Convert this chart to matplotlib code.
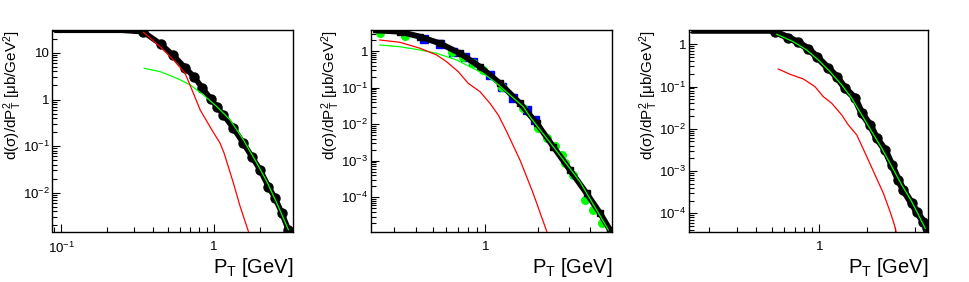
import numpy as np
import matplotlib
matplotlib.use("Agg")
import matplotlib.pyplot as plt
from matplotlib.ticker import LogLocator, FuncFormatter, NullFormatter

plt.rcParams['font.family'] = ['Liberation Sans', 'DejaVu Sans']
plt.rcParams['mathtext.fontset'] = 'custom'
plt.rcParams['mathtext.rm'] = 'Liberation Sans'
plt.rcParams['mathtext.it'] = 'Liberation Sans:italic'
plt.rcParams['mathtext.bf'] = 'Liberation Sans:bold'
plt.rcParams['mathtext.default'] = 'regular'

# ---------------- data ----------------
# Panel 1
p1_black_x = [0.09, 0.15, 0.25, 0.343, 0.449, 0.537, 0.646, 0.743, 0.839, 0.951, 1.041,
              1.150, 1.337, 1.554, 1.763, 1.998, 2.264, 2.505, 2.77, 3.06]
p1_black_y = [80, 60, 40, 28.6, 15.4, 9.06, 4.84, 3.01, 1.75, 1.03, 0.705,
              0.468, 0.242, 0.115, 0.0595, 0.0308, 0.0135, 0.00762, 0.00363, 0.00159]
p1_red_x = [0.345, 0.444, 0.542, 0.646, 0.732, 0.810, 0.966, 1.094, 1.162, 1.337, 1.479, 1.676]
p1_red_y = [27.8, 13.6, 7.08, 3.66, 1.36, 0.598, 0.223, 0.115, 0.0704, 0.016, 0.00504, 0.00146]
p1_green_x = [0.349, 0.444, 0.570, 0.697, 0.851, 1.041, 1.272, 1.554, 1.901, 2.21, 2.57, 3.06]
p1_green_y = [4.70, 3.97, 2.87, 2.06, 1.255, 0.705, 0.365, 0.136, 0.043, 0.0173, 0.00596, 0.00159]

# Panel 2
p2_black_x = [0.2285, 0.325, 0.423, 0.550, 0.716, 0.933, 1.213, 1.58, 1.97, 2.45, 3.05, 3.80, 4.54, 5.17]
p2_black_y = [3.75, 3.37, 2.46, 1.62, 0.865, 0.372, 0.131, 0.0372, 0.0106, 0.00243, 5.6e-4, 1.29e-4, 3.68e-5, 1.29e-5]
p2_blue_x = [0.448, 0.551, 0.656, 0.765, 0.854, 1.064, 1.241, 1.446, 1.726, 1.924]
p2_blue_y = [2.13, 1.52, 0.922, 0.699, 0.491, 0.221, 0.106, 0.0510, 0.0244, 0.0130]
p2_gpts_x = [0.2495, 0.347, 0.642, 0.748, 0.854, 0.974, 1.241, 1.650, 2.01, 2.25, 2.51, 2.74, 2.86,
             3.19, 3.72, 4.15, 4.66]
p2_gpts_y = [3.05, 2.57, 0.957, 0.699, 0.461, 0.303, 0.102, 0.0272, 0.00773, 0.0042, 0.00246, 0.00144,
             8.5e-4, 4.09e-4, 8.5e-5, 4.53e-5, 1.96e-5]
p2_green_x = [0.2495, 0.325, 0.423, 0.527, 0.686, 0.817, 0.974, 1.162, 1.384, 1.650, 1.80, 2.45, 3.48, 5.06]
p2_green_y = [1.46, 1.31, 1.065, 0.865, 0.568, 0.372, 0.246, 0.131, 0.0628, 0.0301, 0.0160, 0.00243,
              2.68e-4, 1.29e-5]
p2_red_x = [0.2495, 0.325, 0.423, 0.527, 0.601, 0.701, 0.799, 0.933, 1.064, 1.187, 1.326, 1.58, 1.88, 2.25]
p2_red_y = [2.00, 1.73, 1.19, 0.778, 0.510, 0.272, 0.131, 0.0773, 0.0372, 0.0178, 0.00623, 1.05e-3,
            1.29e-4, 1.16e-5]

# Panel 3
p3_black_x = [0.155, 0.25, 0.40, 0.50, 0.524, 0.637, 0.736, 0.852, 0.963, 1.140, 1.288, 1.455, 1.683,
              1.855, 2.094, 2.307, 2.606, 2.873, 3.162, 3.40, 3.84, 4.13, 4.55, 4.78]
p3_black_y = [20, 10, 4.0, 2.5, 1.99, 1.43, 1.115, 0.774, 0.509, 0.270, 0.171, 0.0909, 0.0527,
              0.0233, 0.0123, 0.00596, 0.00315, 0.00139, 6.14e-4, 3.56e-4, 1.72e-4, 1.09e-4, 6.33e-5, 4.42e-5]
p3_green_x = [0.538, 0.684, 0.832, 0.986, 1.169, 1.386, 1.603, 1.855, 2.146, 2.483, 2.873, 3.323,
              3.84, 4.34, 4.67]
p3_green_y = [1.725, 1.152, 0.733, 0.425, 0.2245, 0.1088, 0.0527, 0.0212, 0.00854, 0.00345, 0.00127,
              4.65e-4, 1.88e-4, 7.62e-5, 4.42e-5]
p3_red_x = [0.550, 0.652, 0.792, 0.939, 1.060, 1.198, 1.386, 1.526, 1.725, 1.995, 2.252, 2.541, 2.802,
            2.984, 3.058]
p3_red_y = [0.260, 0.195, 0.151, 0.0992, 0.0575, 0.0401, 0.0212, 0.0123, 0.00713, 0.00219, 8.06e-4,
            2.97e-4, 1.09e-4, 5.29e-5, 3.67e-5]

xlims = [(0.0877, 3.28), (0.222, 5.31), (0.150, 4.90)]
ylims = [(1.4e-3, 30.7), (1.11e-5, 3.68), (3.55e-5, 2.14)]

YLABEL = 'd(σ)/dP$_{T}^{2}$ [μb/GeV$^{2}$]'
XLABEL = 'P$_{T}$ [GeV]'

# ---------------- figure ----------------
W, H = 970, 282
fig = plt.figure(figsize=(W / 100, H / 100), dpi=100)

axes_px = [(52.5, 293.0), (371.0, 612.0), (689.0, 928.5)]
top_px, bot_px = 30.3, 232.3
ylab_x = [13, 331, 649]


def fmt(v, pos):
    e = int(round(np.log10(v)))
    if e == 0:
        return '1'
    if e == 1:
        return '10'
    return r'$10^{%d}$' % e


axs = []
for i, (l, r) in enumerate(axes_px):
    ax = fig.add_axes([l / W, 1 - bot_px / H, (r - l) / W, (bot_px - top_px) / H])
    ax.set_xscale('log')
    ax.set_yscale('log')
    ax.set_xlim(*xlims[i])
    ax.set_ylim(*ylims[i])
    for s in ax.spines.values():
        s.set_linewidth(1.0)
    ax.xaxis.set_major_locator(LogLocator(base=10, numticks=10))
    ax.xaxis.set_minor_locator(LogLocator(base=10, subs=np.arange(2, 10), numticks=20))
    ax.yaxis.set_major_locator(LogLocator(base=10, numticks=10))
    ax.yaxis.set_minor_locator(LogLocator(base=10, subs=np.arange(2, 10), numticks=20))
    ax.xaxis.set_major_formatter(FuncFormatter(fmt))
    ax.yaxis.set_major_formatter(FuncFormatter(fmt))
    ax.xaxis.set_minor_formatter(NullFormatter())
    ax.yaxis.set_minor_formatter(NullFormatter())
    ax.tick_params(which='both', direction='in', top=False, right=False, labelsize=9.5, width=0.8)
    ax.tick_params(which='major', length=6)
    ax.tick_params(which='minor', length=3.5)
    ax.tick_params(axis='x', pad=6)
    ax.tick_params(axis='y', pad=2)
    fig.text(r / W, 1 - 256 / H, XLABEL, ha='right', va='top', fontsize=14.5)
    fig.text(ylab_x[i] / W, 1 - 30 / H, YLABEL, rotation=90, ha='center', va='top', fontsize=11)
    axs.append(ax)


def draw_black(ax, x, y, ymax, lw, ms, marker):
    x = np.asarray(x)
    y = np.asarray(y)
    yc = np.minimum(y, ymax)
    ax.plot(x, yc, color='black', lw=lw, zorder=3, solid_capstyle='butt')
    m = y <= ymax
    ax.plot(x[m], y[m], ls='none', marker=marker, ms=ms, color='black', mec='black', zorder=3)


# Panel 1
ax = axs[0]
draw_black(ax, p1_black_x, p1_black_y, ylims[0][1], 4.0, 6.5, 'o')
ax.plot(p1_green_x, p1_green_y, color='#00ff00', lw=0.9, zorder=4)
ax.plot(p1_red_x, p1_red_y, color='#ff0000', lw=0.9, zorder=4)

# Panel 2
ax = axs[1]
ax.plot(p2_blue_x, p2_blue_y, ls='none', marker='s', ms=5.5, color='#0000ff', zorder=2)
ax.plot(p2_gpts_x, p2_gpts_y, ls='none', marker='o', ms=5.5, color='#00ff00', zorder=2)
draw_black(ax, p2_black_x, p2_black_y, ylims[1][1], 4.2, 4, 's')
ax.plot(p2_green_x, p2_green_y, color='#00ff00', lw=0.9, zorder=4)
ax.plot(p2_red_x, p2_red_y, color='#ff0000', lw=0.9, zorder=4)

# Panel 3
ax = axs[2]
draw_black(ax, p3_black_x, p3_black_y, ylims[2][1], 5.0, 6.5, 'o')
ax.plot(p3_green_x, p3_green_y, color='#00ff00', lw=0.9, zorder=4)
ax.plot(p3_red_x, p3_red_y, color='#ff0000', lw=0.9, zorder=4)

fig.savefig('out.png', dpi=100)
